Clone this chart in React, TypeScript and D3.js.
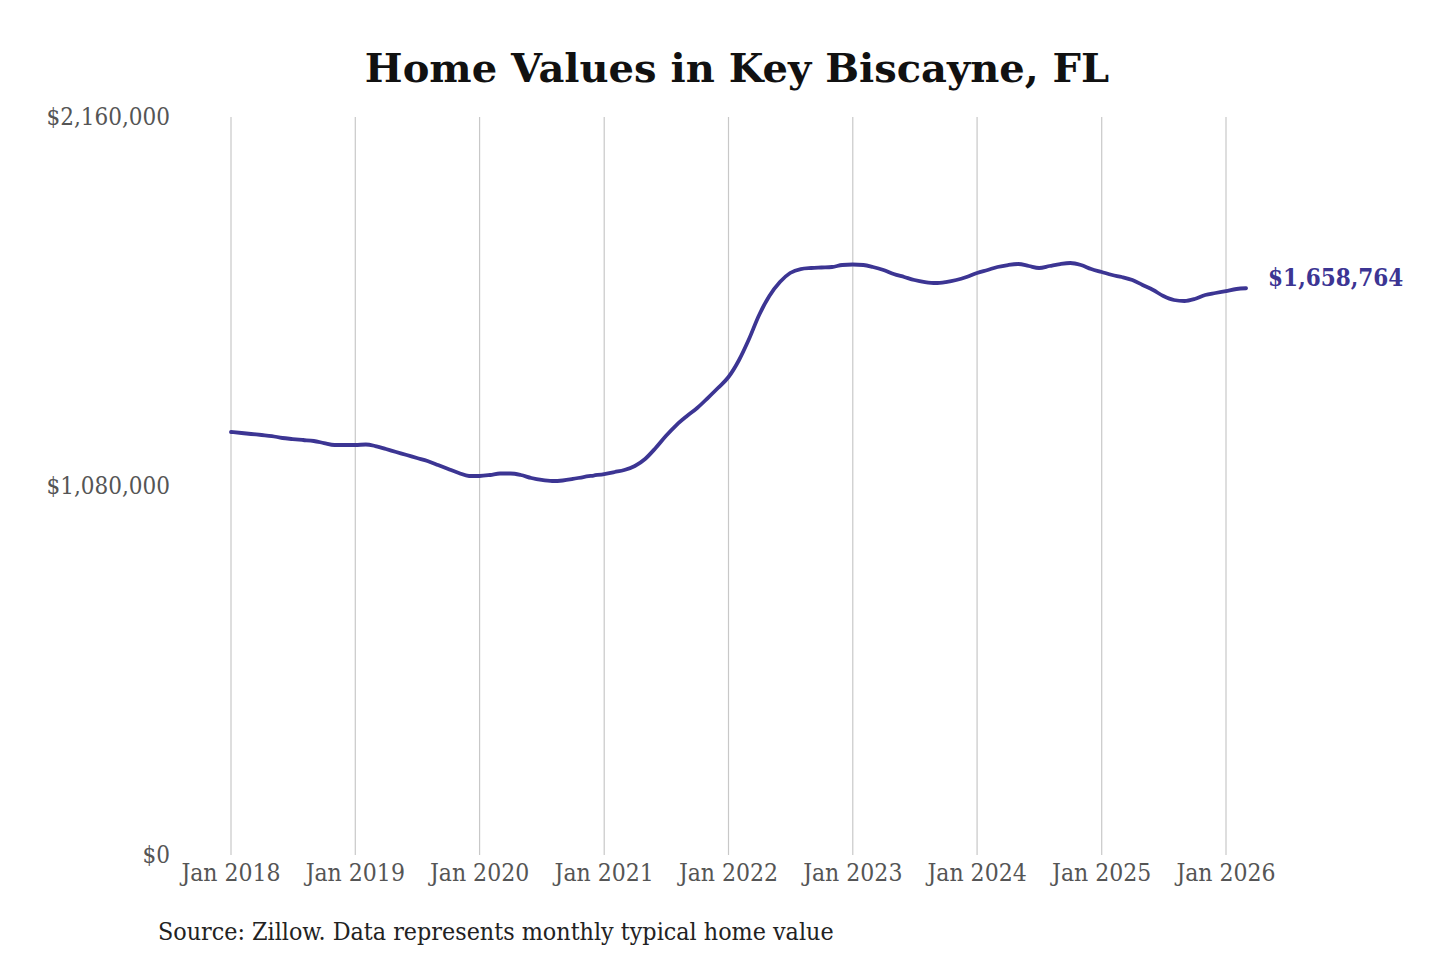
import React, { useEffect, useRef } from "react";
import * as d3 from "d3";

// monthly typical home value, Jan 2018 .. Mar 2026
const values2018 = [1238000, 1235100, 1232200, 1229300, 1226300, 1220500, 1217500, 1214600, 1211700, 1205800, 1200000, 1200000];
const values2019 = [1200000, 1201400, 1197000, 1188300, 1179500, 1170700, 1161900, 1153200, 1141500, 1129700, 1118000, 1109300];
const values2020 = [1109300, 1112200, 1116600, 1116600, 1112200, 1103400, 1097600, 1094600, 1096100, 1100500, 1106300, 1110700];
const values2021 = [1115100, 1121000, 1126800, 1138500, 1159000, 1191200, 1226300, 1258500, 1284900, 1308300, 1337500, 1366800];
const values2022 = [1399000, 1448800, 1507300, 1580500, 1636100, 1677000, 1703400, 1715100, 1718000, 1719500, 1721000, 1726800];
const values2023 = [1728300, 1726800, 1721000, 1712200, 1700500, 1691700, 1682900, 1677000, 1674100, 1677000, 1682900, 1691700];
const values2024 = [1703400, 1712200, 1721000, 1726800, 1729700, 1723900, 1718000, 1723900, 1729700, 1732700, 1726800, 1715100];
const values2025 = [1706300, 1697500, 1691700, 1682900, 1668300, 1653600, 1636100, 1624400, 1621400, 1627300, 1639000, 1644900];
const values2026 = [1650700, 1656600, 1658764];

const allValues = [
  ...values2018, ...values2019, ...values2020, ...values2021, ...values2022,
  ...values2023, ...values2024, ...values2025, ...values2026,
];

const yTicks = [0, 1080000, 2160000];
const xTickYears = [2018, 2019, 2020, 2021, 2022, 2023, 2024, 2025, 2026];

const title = "Home Values in Key Biscayne, FL";
const source = "Source: Zillow. Data represents monthly typical home value";

const lineColor = "#3c3593";

export default function App() {
  const svgRef = useRef<SVGSVGElement>(null);

  useEffect(() => {
    const svg = d3.select(svgRef.current);
    svg.selectAll("*").remove();

    const start = new Date(2018, 0, 1);
    const data = allValues.map((v, i) => ({ date: d3.timeMonth.offset(start, i), value: v }));
    const last = data[data.length - 1];

    const x = d3
      .scaleTime()
      .domain([new Date(2018, 0, 1), new Date(2026, 0, 1)])
      .range([231, 1226]);
    const y = d3.scaleLinear().domain([0, 2160000]).range([855, 117]);

    const font = "'DejaVu Serif Condensed', 'DejaVu Serif', serif";

    svg
      .append("text")
      .attr("x", 737)
      .attr("y", 82)
      .attr("text-anchor", "middle")
      .style("font-family", "'DejaVu Serif', serif")
      .style("font-weight", "bold")
      .style("font-size", "40px")
      .style("fill", "#111")
      .text(title);

    // vertical gridlines at each January
    const yearDates = xTickYears.map((yr) => new Date(yr, 0, 1));
    svg
      .append("g")
      .selectAll("line")
      .data(yearDates)
      .join("line")
      .attr("x1", (d) => x(d))
      .attr("x2", (d) => x(d))
      .attr("y1", y(2160000))
      .attr("y2", y(0))
      .attr("stroke", "#c8c8c8")
      .attr("stroke-width", 1.2);

    svg
      .append("g")
      .selectAll("text")
      .data(yearDates)
      .join("text")
      .attr("x", (d) => x(d))
      .attr("y", 881)
      .attr("text-anchor", "middle")
      .style("font-family", font)
      .style("font-size", "24.5px")
      .style("fill", "#555")
      .text((d) => d3.timeFormat("Jan %Y")(d));

    svg
      .append("g")
      .selectAll("text")
      .data(yTicks)
      .join("text")
      .attr("x", 170)
      .attr("y", (d) => y(d) + 8)
      .attr("text-anchor", "end")
      .style("font-family", font)
      .style("font-size", "24px")
      .style("fill", "#555")
      .text((d) => d3.format("$,")(d));

    const line = d3
      .line<{ date: Date; value: number }>()
      .x((d) => x(d.date))
      .y((d) => y(d.value))
      .curve(d3.curveMonotoneX);

    svg
      .append("path")
      .datum(data)
      .attr("d", line)
      .attr("fill", "none")
      .attr("stroke", lineColor)
      .attr("stroke-width", 3.8)
      .attr("stroke-linecap", "round")
      .attr("stroke-linejoin", "round");

    svg
      .append("text")
      .attr("x", x(last.date) + 22)
      .attr("y", y(last.value) - 2)
      .style("font-family", font)
      .style("font-weight", "bold")
      .style("font-size", "24px")
      .style("fill", lineColor)
      .text(d3.format("$,")(last.value));

    svg
      .append("text")
      .attr("x", 158)
      .attr("y", 940)
      .style("font-family", font)
      .style("font-size", "24.8px")
      .style("fill", "#222")
      .text(source);
  }, []);

  return (
    <svg
      ref={svgRef}
      width={1440}
      height={960}
      style={{ position: "absolute", left: 0, top: 0, background: "#fff" }}
    />
  );
}
